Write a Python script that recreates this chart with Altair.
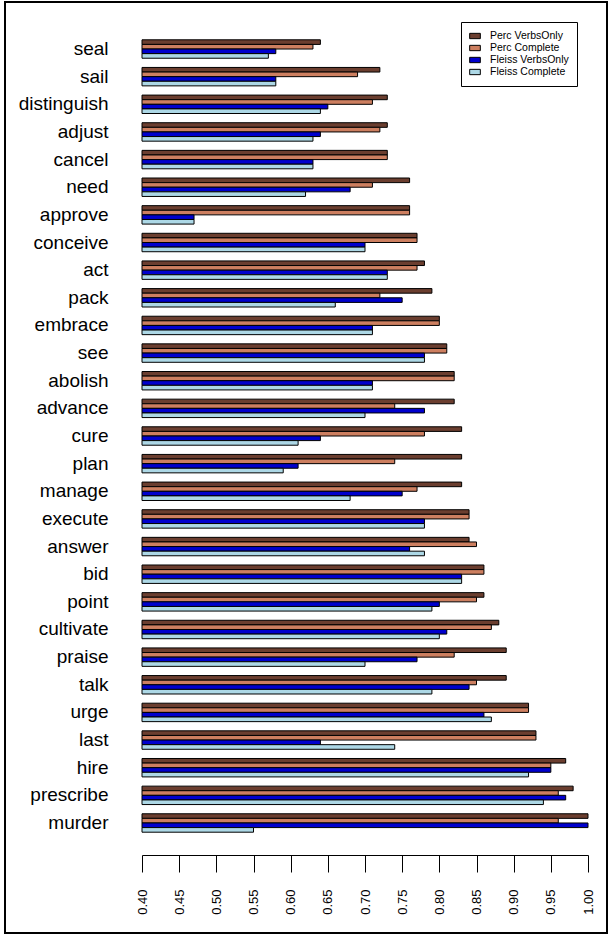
import altair as alt
import pandas as pd

# Verbs, listed top to bottom
verbs = [
    "seal", "sail", "distinguish", "adjust", "cancel", "need", "approve",
    "conceive", "act", "pack", "embrace", "see", "abolish", "advance", "cure",
    "plan", "manage", "execute", "answer", "bid", "point", "cultivate",
    "praise", "talk", "urge", "last", "hire", "prescribe", "murder",
]

perc_verbs_only = [
    0.64, 0.72, 0.73, 0.73, 0.73, 0.76, 0.76, 0.77, 0.78, 0.79, 0.80, 0.81,
    0.82, 0.82, 0.83, 0.83, 0.83, 0.84, 0.84, 0.86, 0.86, 0.88, 0.89, 0.89,
    0.92, 0.93, 0.97, 0.98, 1.00,
]
perc_complete = [
    0.63, 0.69, 0.71, 0.72, 0.73, 0.71, 0.76, 0.77, 0.77, 0.72, 0.80, 0.81,
    0.82, 0.74, 0.78, 0.74, 0.77, 0.84, 0.85, 0.86, 0.85, 0.87, 0.82, 0.85,
    0.92, 0.93, 0.95, 0.96, 0.96,
]
fleiss_verbs_only = [
    0.58, 0.58, 0.65, 0.64, 0.63, 0.68, 0.47, 0.70, 0.73, 0.75, 0.71, 0.78,
    0.71, 0.78, 0.64, 0.61, 0.75, 0.78, 0.76, 0.83, 0.80, 0.81, 0.77, 0.84,
    0.86, 0.64, 0.95, 0.97, 1.00,
]
fleiss_complete = [
    0.57, 0.58, 0.64, 0.63, 0.63, 0.62, 0.47, 0.70, 0.73, 0.66, 0.71, 0.78,
    0.71, 0.70, 0.61, 0.59, 0.68, 0.78, 0.78, 0.83, 0.79, 0.80, 0.70, 0.79,
    0.87, 0.74, 0.92, 0.94, 0.55,
]

series_names = ["Perc VerbsOnly", "Perc Complete", "Fleiss VerbsOnly", "Fleiss Complete"]
series_colors = ["#6B3E2F", "#CD7F60", "#0000CD", "#ADD8E6"]
x_ticks = [0.40, 0.45, 0.50, 0.55, 0.60, 0.65, 0.70, 0.75, 0.80, 0.85, 0.90, 0.95, 1.00]

rows = []
for name, vals in zip(series_names, [perc_verbs_only, perc_complete, fleiss_verbs_only, fleiss_complete]):
    for verb, v in zip(verbs, vals):
        rows.append({"verb": verb, "series": name, "value": v, "base": 0.40})
df = pd.DataFrame(rows)

FONT = "Liberation Sans"
LEFT, TOP, RIGHT, BOTTOM = 142, 17, 588, 855
W, H = RIGHT - LEFT, BOTTOM - TOP

bars = alt.Chart(df).mark_bar(stroke="black", strokeWidth=1).encode(
    y=alt.Y(
        "verb:N",
        sort=verbs,
        scale=alt.Scale(paddingInner=1 / 3, paddingOuter=0.825),
        axis=alt.Axis(
            title=None, domain=False, ticks=False, labelFontSize=19,
            labelPadding=34, labelColor="black", labelFont=FONT,
        ),
    ),
    yOffset=alt.YOffset(
        "series:N", sort=series_names,
        scale=alt.Scale(paddingInner=0, paddingOuter=0),
    ),
    x=alt.X(
        "value:Q",
        scale=alt.Scale(domain=[0.40, 1.00], nice=False, zero=False),
        axis=alt.Axis(
            title=None, values=x_ticks, format=".2f", labelAngle=270,
            labelFontSize=13, labelFont=FONT, labelColor="black",
            domainColor="black", tickColor="black", tickSize=17,
            labelPadding=17, grid=False, labelFlush=False, labelOverlap=False,
        ),
    ),
    x2="base:Q",
    color=alt.Color(
        "series:N",
        sort=series_names,
        scale=alt.Scale(domain=series_names, range=series_colors),
        legend=alt.Legend(
            title=None, orient="none", legendX=319, legendY=5,
            symbolType="M-1,-0.5H1V0.5H-1Z", symbolSize=114,
            symbolStrokeColor="black", symbolStrokeWidth=1, symbolOpacity=1,
            labelFontSize=10.5, labelFont=FONT, labelColor="black",
            labelOffset=9, rowPadding=-2, padding=8,
            strokeColor="black", fillColor="white",
        ),
    ),
)

# Outer frame around the whole figure
frame = alt.Chart(pd.DataFrame({"k": [0]})).mark_rect(
    filled=False, stroke="black", strokeWidth=2
).encode(
    x=alt.value(5 - LEFT), x2=alt.value(607 - LEFT),
    y=alt.value(2 - TOP), y2=alt.value(933 - TOP),
)

chart = alt.layer(bars, frame).properties(
    width=W, height=H,
    autosize=alt.AutoSizeParams(type="none"),
    padding={"left": LEFT, "top": TOP, "right": 611 - RIGHT, "bottom": 936 - BOTTOM},
    background="white",
).configure_view(strokeWidth=0)

chart.save("out.html", embed_options={"renderer": "svg", "actions": False})
